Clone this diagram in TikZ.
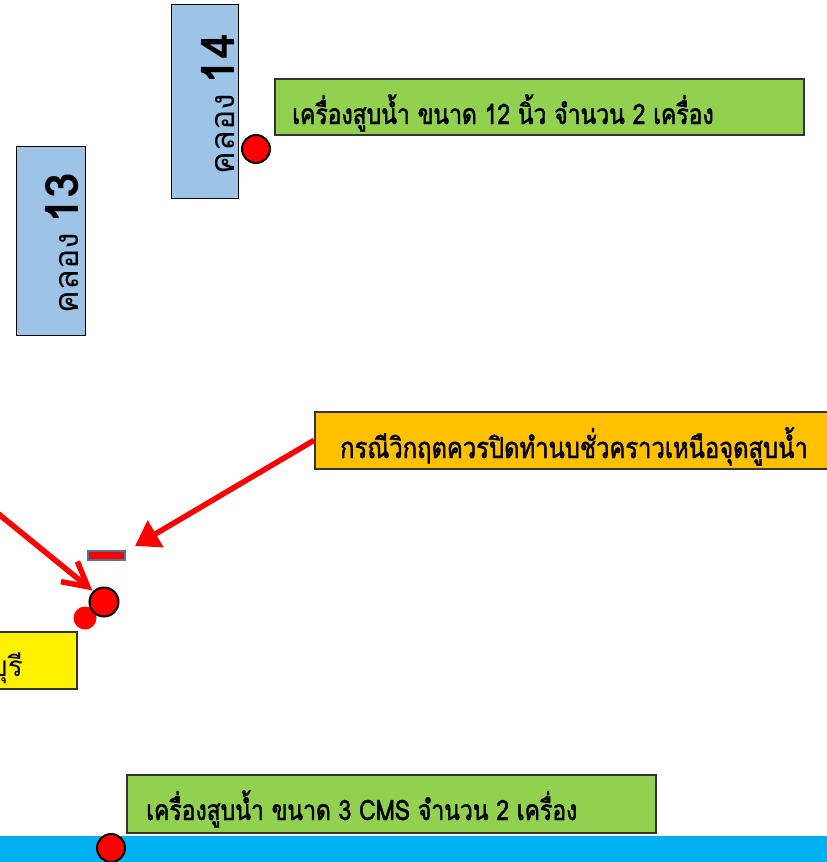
\documentclass[tikz,border=0pt]{standalone}
\usepackage{fontspec}
\newfontfamily\thai[Script=Thai]{Loma}
\newfontfamily\thaiB[Script=Thai,FakeStretch=0.82,FakeBold=1.6]{Loma}
\usetikzlibrary{arrows.meta}
\definecolor{canal}{HTML}{9DC3E6}
\definecolor{pumpgreen}{HTML}{92D050}
\definecolor{warnorange}{HTML}{FFC000}
\definecolor{stripblue}{HTML}{00B0F0}
\definecolor{gateedge}{HTML}{4F72A0}
\tikzset{
  canalbox/.style={draw=black, line width=1.2pt, fill=canal, inner sep=0pt, anchor=north west},
  labelbox/.style={draw=black!80, line width=1.6pt, inner sep=0pt, anchor=north west},
  pumpdot/.style={circle, draw=black, line width=2pt, fill=red, inner sep=0pt, minimum size=28pt},
  redarrow/.style={red, line width=5.5pt},
  boxtext/.style={font=\thaiB\fontsize{28}{28}\selectfont, anchor=base west, inner sep=0pt}
}
\begin{document}
\begin{tikzpicture}[x=1pt,y=-1pt]
\useasboundingbox (0,0) rectangle (827,862);
\clip (0,0) rectangle (827,862);
% bottom canal strip
\fill[stripblue] (0,836) rectangle (827,862);
% canal 14
\node[canalbox, minimum width=67pt, minimum height=194pt] (k14) at (171,4) {};
\node[rotate=90, inner sep=0pt] (k14t) at (218,104) {{\thai\fontsize{34}{34}\selectfont คลอง}\hspace{9pt}{\thai\bfseries\fontsize{46}{46}\selectfont 14}};
% canal 13
\node[canalbox, minimum width=69pt, minimum height=189pt] (k13) at (16,146) {};
\node[rotate=90, inner sep=0pt] (k13t) at (62,243) {{\thai\fontsize{34}{34}\selectfont คลอง}\hspace{9pt}{\thai\bfseries\fontsize{46}{46}\selectfont 13}};
% top green box
\node[labelbox, fill=pumpgreen, minimum width=529pt, minimum height=56pt] (g1) at (274,78) {};
\node[boxtext] (g1t) at (292,124) {เครื่องสูบน้ำ ขนาด 12 นิ้ว จำนวน 2 เครื่อง};
\node[pumpdot] (p14) at (256,149) {};
% orange box
\node[labelbox, fill=warnorange, minimum width=520pt, minimum height=57pt] (o1) at (314,411) {};
\node[boxtext, font=\thaiB\fontsize{29}{29}\selectfont] (o1t) at (340,458) {กรณีวิกฤตควรปิดทำนบชั่วคราวเหนือจุดสูบน้ำ};
% gate
\node[draw=gateedge, line width=2pt, fill=red, minimum width=37pt, minimum height=9pt, inner sep=0pt] (gate) at (106.5,555.5) {};
\coordinate (gtip) at (135,546);
\draw[redarrow, -{Triangle[length=24pt,width=30pt]}] (o1.west) -- (gtip);
% pump near gate
\fill[red] (85,618) circle (11.5);
\node[pumpdot, minimum size=29pt] (pm) at (104,602) {};
\coordinate (lstart) at (-10,507);
\draw[redarrow, -{Straight Barb[length=24pt,width=26pt,line width=5.5pt]}, shorten >=1pt] (lstart) -- (pm.north west);
% yellow box
\node[labelbox, fill=yellow, minimum width=96pt, minimum height=57pt] (y1) at (-20,631) {};
\node[font=\thai\fontsize{28}{28}\selectfont, anchor=base east, inner sep=0pt] (y1t) at (23,676) {บุรี};
% bottom green box
\node[labelbox, fill=pumpgreen, minimum width=529pt, minimum height=58pt] (g2) at (126,774) {};
\node[boxtext] (g2t) at (146,820) {เครื่องสูบน้ำ ขนาด 3 CMS จำนวน 2 เครื่อง};
\node[pumpdot] (p1) at (111,848) {};
\end{tikzpicture}
\end{document}
